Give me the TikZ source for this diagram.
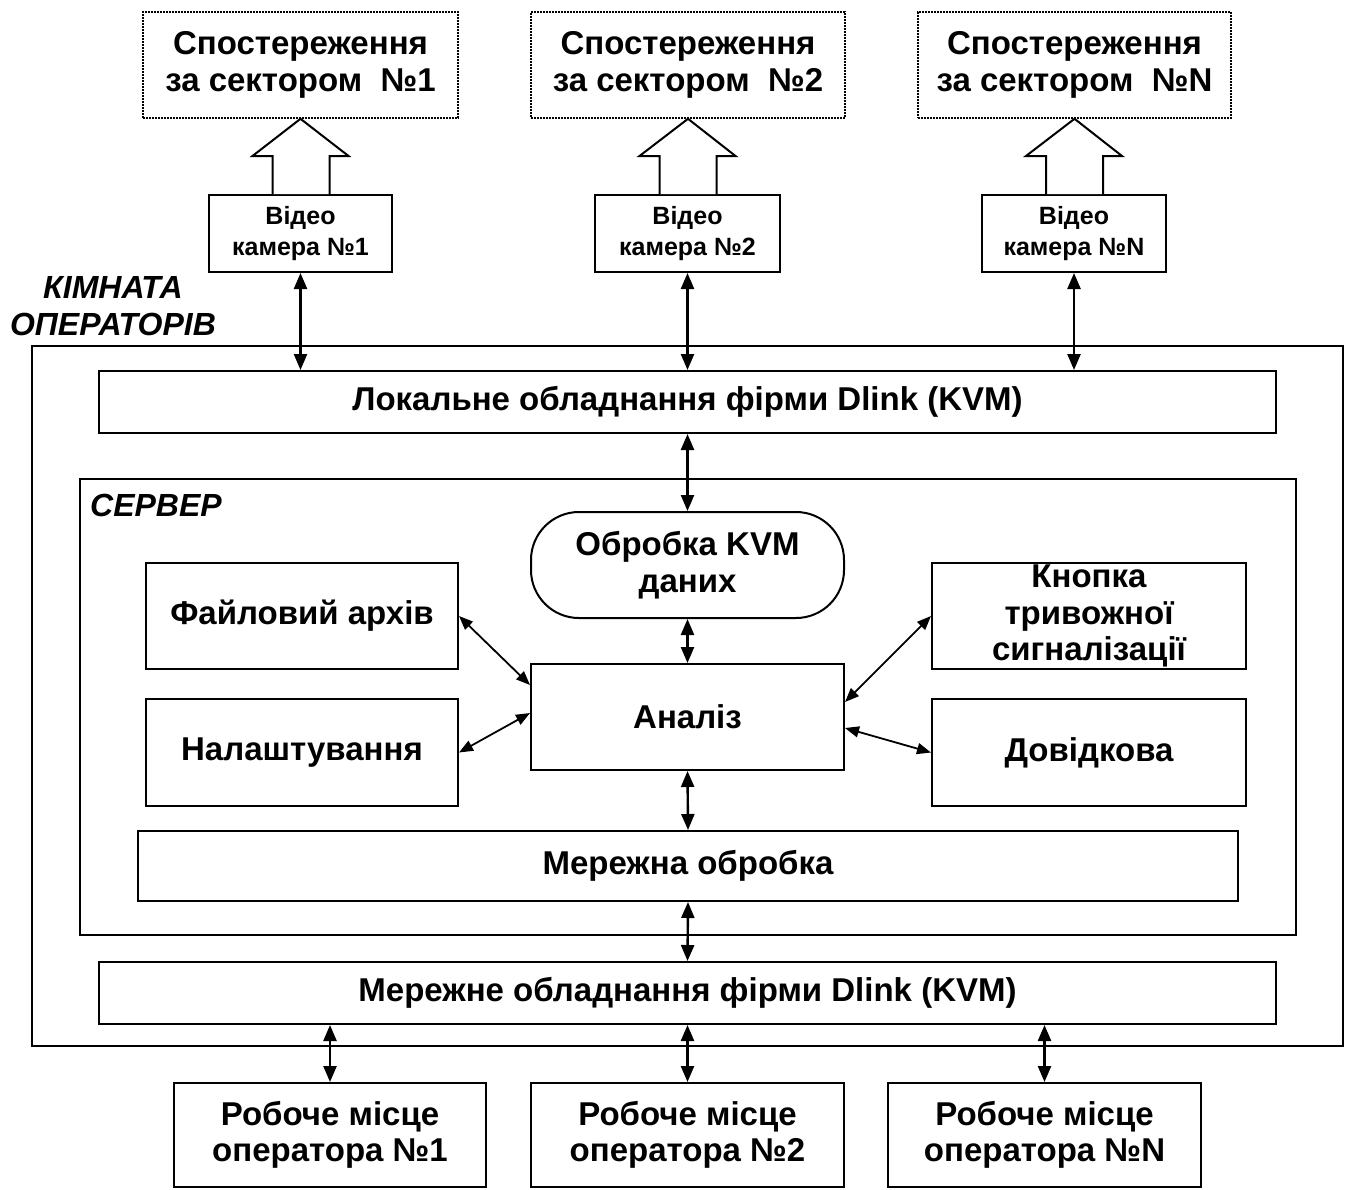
\documentclass[tikz,border=0pt]{standalone}
\usepackage{fontspec}
\setmainfont{Liberation Sans}
\usetikzlibrary{arrows.meta,calc}
\begin{document}
\begin{tikzpicture}[x=1pt,y=-1pt,
  lbl/.style={font=\fontsize{33}{36.5}\selectfont\bfseries, align=center},
  box/.style={draw, line width=2pt, inner sep=0pt, lbl},
  obsbox/.style={box, densely dotted, line width=1.6pt},
  cambox/.style={box, font=\fontsize{25}{31}\selectfont\bfseries},
  ital/.style={font=\fontsize{32}{37}\selectfont\bfseries\itshape, align=center, inner sep=0pt},
  biarr/.style={line width=2.4pt, {Triangle[length=16pt,width=13pt]}-{Triangle[length=16pt,width=13pt]}},
  diarr/.style={line width=1.8pt, {Triangle[length=14pt,width=11pt]}-{Triangle[length=14pt,width=11pt]}},
  hollow/.style={draw, line width=2pt, line join=miter, fill=white}
]
\useasboundingbox (0,0) rectangle (1351,1189);

% top observation boxes
\node[obsbox, minimum width=315, minimum height=106] (obs1) at (300.5,65) {Спостереження\\за сектором\ \ №1};
\node[obsbox, minimum width=314, minimum height=106] (obs2) at (688,65) {Спостереження\\за сектором\ \ №2};
\node[obsbox, minimum width=313, minimum height=106] (obs3) at (1074.5,65) {Спостереження\\за сектором\ \ №N};

% cameras
\node[cambox, minimum width=183, minimum height=77] (cam1) at (300.5,233.5) {Відео\\камера №1};
\node[cambox, minimum width=185, minimum height=77] (cam2) at (687.5,233.5) {Відео\\камера №2};
\node[cambox, minimum width=184, minimum height=77] (cam3) at (1074,233.5) {Відео\\камера №N};

% hollow arrows
\foreach \c/\o in {cam1/obs1, cam2/obs2, cam3/obs3}{
  \draw[hollow] ($(\c.north)+(-28,0)$) -- ($(\c.north)+(-28,-38)$) -- ($(\c.north)+(-48,-38)$)
     -- (\o.south) -- ($(\c.north)+(48,-38)$) -- ($(\c.north)+(29,-38)$) -- ($(\c.north)+(29,0)$);
}

% operator room
\node[draw, line width=2pt, minimum width=1311, minimum height=700, inner sep=0pt] (room) at (687.5,696) {};
\node[ital] (roomlbl) at (113,306.5) {КІМНАТА\\ОПЕРАТОРІВ};

\node[box, minimum width=1177, minimum height=62] (local) at (687.5,402) {Локальне обладнання фірми Dlink (KVM)};

% server
\node[draw, line width=2pt, minimum width=1216, minimum height=456, inner sep=0pt] (server) at (688,707) {};
\node[ital, anchor=west] (serverlbl) at (90,505) {СЕРВЕР};

\node[box, minimum width=313, minimum height=106, rounded corners=48pt] (kvm) at (687.5,565) {Обробка KVM\\даних};
\node[box, minimum width=313, minimum height=106] (an) at (687.5,717) {Аналіз};
\node[box, minimum width=312, minimum height=106] (file) at (302,616) {Файловий архів};
\node[box, minimum width=312, minimum height=107] (nal) at (302,752.5) {Налаштування};
\node[box, minimum width=314, minimum height=106] (knop) at (1089,616) {Кнопка\\тривожної\\сигналізації};
\node[box, minimum width=314, minimum height=107] (dov) at (1089,752.5) {Довідкова};
\node[box, minimum width=1100, minimum height=70] (merob) at (688,866) {Мережна обробка};

\node[box, minimum width=1177, minimum height=62] (mereq) at (687.5,993) {Мережне обладнання фірми Dlink (KVM)};

% operator workplaces
\node[box, minimum width=312, minimum height=104] (op1) at (330,1135) {Робоче місце\\оператора №1};
\node[box, minimum width=313, minimum height=104] (op2) at (687.5,1135) {Робоче місце\\оператора №2};
\node[box, minimum width=313, minimum height=104] (op3) at (1044.5,1135) {Робоче місце\\оператора №N};

% connectors
\foreach \c in {cam1,cam2,cam3}{
  \draw[biarr] (\c.south) -- (\c.south |- local.north);
}
\draw[biarr] (local.south) -- (kvm.north);
\draw[biarr] (kvm.south) -- (an.north);
\draw[biarr] (an.south) -- (merob.north);
\draw[biarr] (merob.south) -- (mereq.north);
\foreach \o in {op1,op2,op3}{
  \draw[biarr] (\o.north |- mereq.south) -- (\o.north);
}
\draw[diarr] (file.east) -- ($(an.west)+(0,-32)$);
\draw[diarr] (nal.east) -- ($(an.west)+(0,-4)$);
\draw[diarr] (knop.west) -- ($(an.east)+(0,-15)$);
\draw[diarr] (dov.west) -- ($(an.east)+(0,11)$);
\end{tikzpicture}
\end{document}
